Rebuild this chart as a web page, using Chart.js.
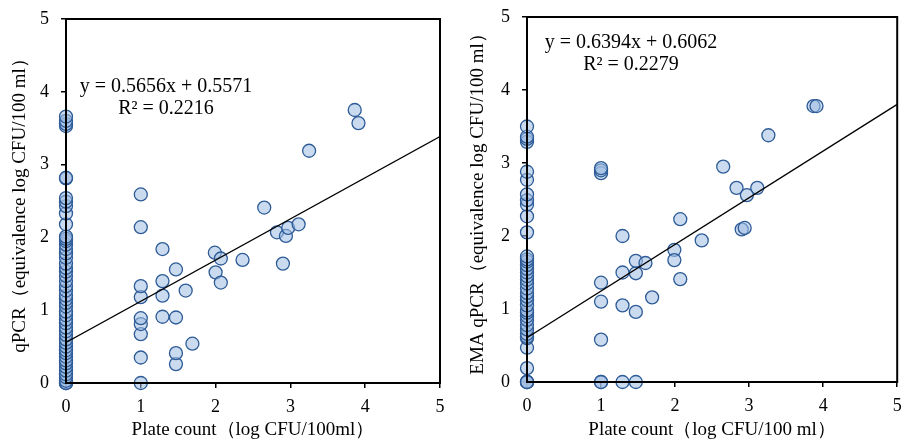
<!DOCTYPE html>
<html>
<head>
<meta charset="utf-8">
<script src="https://cdn.jsdelivr.net/npm/chart.js@4.4.1/dist/chart.umd.min.js"></script>
<style>
  html, body { margin: 0; padding: 0; background: #fff; }
  .wrap { position: absolute; top: 0; height: 441px; }
  #w1 { left: 0; width: 450px; }
  #w2 { left: 455px; width: 450px; }
</style>
</head>
<body>
<div class="wrap" id="w1"><canvas id="c1"></canvas></div>
<div class="wrap" id="w2"><canvas id="c2"></canvas></div>
<script>
// Left panel: qPCR vs plate count
const qpcrX = [
  0, 0, 0, 0, 0, 0, 0, 0, 0, 0, 0, 0, 0, 0, 0, 0, 0, 0, 0, 0,
  0, 0, 0, 0, 0, 0, 0, 0, 0, 0, 0, 0, 0, 0, 0, 0, 0, 0, 0, 0,
  0, 0, 0, 0, 0, 0, 0, 0, 0, 0, 0, 0,
  1, 1, 1, 1, 1, 1, 1, 1, 1,
  1.29, 1.29, 1.29, 1.29, 1.47, 1.47, 1.47, 1.47, 1.6, 1.69,
  1.99, 2.0, 2.07, 2.07, 2.36, 2.65, 2.82, 2.9, 2.94, 2.97, 3.11, 3.25, 3.86, 3.91
];
const qpcrY = [
  0, 0, 0, 0.03, 0.08, 0.12, 0.17, 0.22, 0.27, 0.31, 0.36, 0.41, 0.45, 0.5, 0.55, 0.6, 0.66, 0.71, 0.76, 0.82,
  0.87, 0.93, 0.98, 1.05, 1.1, 1.15, 1.2, 1.27, 1.33, 1.4, 1.47, 1.53, 1.58, 1.64, 1.72, 1.78, 1.84, 1.9, 1.95, 1.98,
  2.01, 2.18, 2.33, 2.43, 2.49, 2.54, 2.81, 2.82, 3.53, 3.56, 3.6, 3.66,
  0, 0.35, 0.67, 0.81, 0.89, 1.18, 1.33, 2.14, 2.59,
  0.91, 1.2, 1.4, 1.84, 0.26, 0.41, 0.9, 1.56, 1.27, 0.54,
  1.79, 1.52, 1.71, 1.38, 1.69, 2.41, 2.07, 1.64, 2.02, 2.13, 2.18, 3.19, 3.75, 3.57
];
const qpcrFit = { slope: 0.5656, intercept: 0.5571, r2: '0.2216' };

// Right panel: EMA qPCR vs plate count
const emaX = [
  0, 0, 0, 0, 0, 0, 0, 0, 0, 0, 0, 0, 0, 0, 0, 0, 0, 0, 0, 0,
  0, 0, 0, 0, 0, 0, 0, 0, 0, 0, 0, 0, 0, 0, 0, 0, 0, 0, 0, 0,
  1, 1, 1, 1, 1, 1, 1, 1,
  1.29, 1.29, 1.29, 1.29, 1.47, 1.47, 1.47, 1.47, 1.6, 1.69,
  1.99, 1.99, 2.07, 2.07, 2.36, 2.65, 2.83, 2.9, 2.94, 2.97, 3.11, 3.26, 3.87, 3.91
];
const emaY = [
  0, 0, 0, 0, 0.19, 0.47, 0.6, 0.62, 0.66, 0.72, 0.78, 0.85, 0.9, 0.95, 0.98, 1.05, 1.12, 1.17, 1.22, 1.28,
  1.35, 1.4, 1.45, 1.5, 1.55, 1.6, 1.65, 1.68, 1.72, 2.05, 2.27, 2.43, 2.49, 2.57, 2.77, 2.88, 3.29, 3.33, 3.36, 3.5,
  0, 0, 0.58, 1.1, 1.36, 2.86, 2.9, 2.93,
  0, 1.05, 1.5, 2.0, 0, 0.96, 1.49, 1.66, 1.63, 1.16,
  1.81, 1.67, 2.23, 1.41, 1.94, 2.95, 2.66, 2.09, 2.11, 2.56, 2.66, 3.38, 3.78, 3.78
];
const emaFit = { slope: 0.6394, intercept: 0.6062, r2: '0.2279' };

const xTicks = [0, 1, 2, 3, 4, 5];
const yTicks = [0, 1, 2, 3, 4, 5];

const FONT = "'Liberation Serif', 'Times New Roman', serif";

// draws the frame round the plot area and the trend equation
const boxAndLabel = {
  id: 'boxAndLabel',
  afterDatasetsDraw(chart, args, opts) {
    const { ctx, chartArea: a } = chart;
    ctx.save();
    ctx.strokeStyle = '#000';
    ctx.lineWidth = 2;
    ctx.strokeRect(a.left, a.top, a.right - a.left, a.bottom - a.top);
    ctx.fillStyle = '#000';
    ctx.font = '20px ' + FONT;
    ctx.textAlign = 'center';
    ctx.textBaseline = 'middle';
    ctx.fillText(opts.eq, opts.x, opts.y);
    ctx.fillText(opts.r2, opts.x, opts.y + 22);
    ctx.restore();
  }
};

function makeChart(id, xs, ys, fit, yTitle, xTitle, geom, label) {
  const pts = xs.map((x, i) => ({ x: x, y: ys[i] }));
  const line = [0, 5].map(x => ({ x: x, y: fit.slope * x + fit.intercept }));
  return new Chart(document.getElementById(id), {
    type: 'scatter',
    data: {
      datasets: [
        {
          data: line,
          showLine: true,
          borderColor: '#000',
          borderWidth: 1.3,
          pointRadius: 0,
          order: 0
        },
        {
          data: pts,
          backgroundColor: 'rgba(160,190,226,0.55)',
          borderColor: '#2d5b97',
          borderWidth: 1.3,
          pointRadius: 6.5,
          clip: false,
          order: 1
        }
      ]
    },
    options: {
      responsive: true,
      maintainAspectRatio: false,
      animation: false,
      layout: { padding: { top: geom.top, right: geom.right, bottom: 0, left: geom.left } },
      plugins: {
        legend: { display: false },
        tooltip: { enabled: false },
        boxAndLabel: label
      },
      scales: {
        x: {
          type: 'linear',
          min: 0, max: 5,
          afterBuildTicks: s => { s.ticks = xTicks.map(v => ({ value: v })); },
          afterFit: s => { s.height = geom.xh; s.paddingLeft = 0; s.paddingRight = 0; },
          grid: { display: true, drawOnChartArea: false, drawTicks: true, tickLength: 5, color: '#000', lineWidth: 1.5 },
          border: { display: true, color: '#000', width: 2 },
          ticks: { color: '#000', font: { family: FONT, size: 18 }, padding: 8, maxRotation: 0 },
          title: { display: true, text: xTitle, color: '#000', font: { family: FONT, size: 19 }, padding: { top: 0, bottom: 0 } }
        },
        y: {
          type: 'linear',
          min: 0, max: 5,
          afterBuildTicks: s => { s.ticks = yTicks.map(v => ({ value: v })); },
          afterFit: s => { s.width = geom.yw; s.paddingTop = 0; s.paddingBottom = 0; },
          grid: { display: true, drawOnChartArea: false, drawTicks: true, tickLength: 5, color: '#000', lineWidth: 1.5 },
          border: { display: true, color: '#000', width: 2 },
          ticks: { color: '#000', font: { family: FONT, size: 18 }, padding: 12 },
          title: { display: true, text: yTitle, color: '#000', font: { family: FONT, size: 19 }, padding: { top: 0, bottom: 0 } }
        }
      }
    },
    plugins: [boxAndLabel]
  });
}

makeChart('c1', qpcrX, qpcrY, qpcrFit,
  'qPCR（equivalence log CFU/100 ml）', 'Plate count（log CFU/100ml）',
  { top: 19, right: 10, left: 9, xh: 58, yw: 57 },
  { eq: 'y = ' + qpcrFit.slope + 'x + ' + qpcrFit.intercept, r2: 'R² = ' + qpcrFit.r2, x: 166, y: 87 });

makeChart('c2', emaX, emaY, emaFit,
  'EMA qPCR（equivalence log CFU/100 ml）', 'Plate count（log CFU/100 ml）',
  { top: 17, right: 4, left: 12, xh: 59, yw: 60 },
  { eq: 'y = ' + emaFit.slope + 'x + ' + emaFit.intercept, r2: 'R² = ' + emaFit.r2, x: 176, y: 43 });
</script>
</body>
</html>
